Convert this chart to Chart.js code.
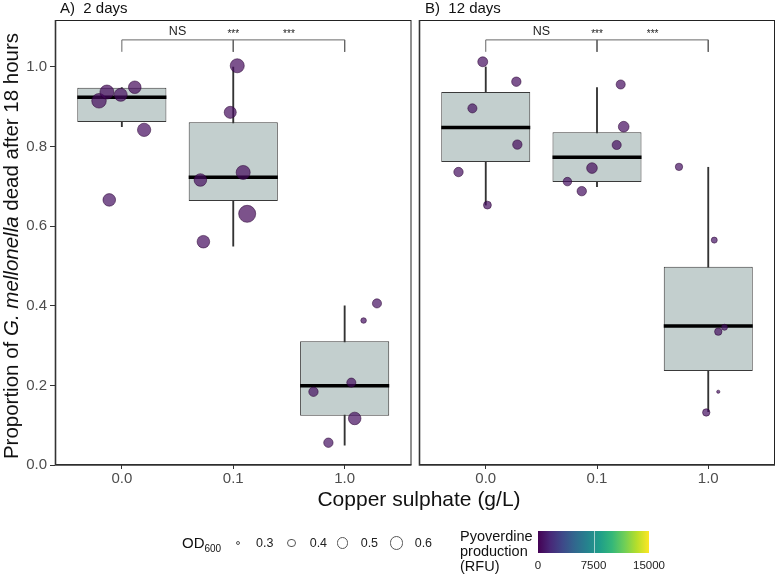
<!DOCTYPE html>
<html>
<head>
<meta charset="utf-8">
<script src="https://cdn.jsdelivr.net/npm/chart.js@4"></script>
<style>
  body { margin: 0; background: #fff; }
  #wrap { position: relative; width: 777px; height: 578px; font-family: "Liberation Sans", Arial, sans-serif; color: #111; }
  canvas { position: absolute; top: 0; }
  .txt { position: absolute; white-space: pre; }
  .key { position: absolute; border: 1px solid #555; border-radius: 50%; box-sizing: border-box; }
</style>
</head>
<body>
<div id="wrap">
  <canvas id="panelA" width="413" height="578" style="left:0"></canvas>
  <canvas id="panelB" width="364" height="578" style="left:413px"></canvas>

  <div class="txt" style="left:60px;top:-1px;font-size:15px;line-height:18px">A)  2 days</div>
  <div class="txt" style="left:425px;top:-1px;font-size:15px;line-height:18px">B)  12 days</div>

  <div class="txt" style="left:-239px;top:234px;width:500px;height:24px;line-height:24px;text-align:center;font-size:20.5px;transform:rotate(-90deg)">Proportion of <i>G. mellonella</i> dead after 18 hours</div>
  <div class="txt" style="left:169px;top:487px;width:500px;text-align:center;font-size:21px;line-height:24px">Copper sulphate (g/L)</div>

  <div id="legend"></div>
</div>

<script>
// categories on the x axis
const categories = ['0.0', '0.1', '1.0'];

// A) 2 days - box stats
const boxA_lower  = [0.850, 0.550, 0.050];
const boxA_q1     = [0.862, 0.663, 0.124];
const boxA_median = [0.924, 0.723, 0.199];
const boxA_q3     = [0.948, 0.861, 0.311];
const boxA_upper  = [0.948, 1.000, 0.400];

// A) 2 days - jittered points (x = category index + jitter)
const pointsA_x   = [-0.205, -0.134, -0.010, 0.116, 0.200, -0.113, 1.036, 0.973, 0.705, 1.089, 1.125, 0.732, 2.290, 2.170, 2.060, 1.720, 2.090, 1.854];
const pointsA_y   = [0.915, 0.937, 0.930, 0.949, 0.842, 0.666, 1.003, 0.886, 0.716, 0.735, 0.631, 0.561, 0.406, 0.363, 0.207, 0.184, 0.117, 0.056];
const pointsA_od  = [0.67, 0.64, 0.585, 0.565, 0.60, 0.565, 0.64, 0.54, 0.565, 0.64, 0.82, 0.565, 0.42, 0.32, 0.42, 0.43, 0.565, 0.43];
const pointsA_pvd = [400, 350, 500, 300, 450, 600, 380, 420, 500, 350, 300, 450, 700, 650, 500, 600, 550, 700];

// B) 12 days - box stats
const boxB_lower  = [0.653, 0.699, 0.134];
const boxB_q1     = [0.761, 0.711, 0.236];
const boxB_median = [0.848, 0.773, 0.349];
const boxB_q3     = [0.937, 0.836, 0.498];
const boxB_upper  = [1.000, 0.948, 0.748];

// B) 12 days - jittered points
const pointsB_x   = [-0.027, 0.275, -0.120, 0.284, -0.245, 0.015, 1.240, 1.177, 0.955, 0.734, 0.863, 1.213, 1.737, 2.054, 2.146, 2.090, 2.090, 1.982];
const pointsB_y   = [1.013, 0.963, 0.896, 0.805, 0.736, 0.653, 0.850, 0.804, 0.746, 0.712, 0.688, 0.956, 0.749, 0.565, 0.346, 0.335, 0.184, 0.132];
const pointsB_od  = [0.45, 0.43, 0.42, 0.43, 0.43, 0.38, 0.48, 0.42, 0.48, 0.40, 0.43, 0.42, 0.365, 0.33, 0.33, 0.365, 0.28, 0.365];
const pointsB_pvd = [500, 450, 600, 400, 550, 500, 450, 500, 400, 600, 550, 450, 700, 800, 900, 600, 750, 650];

// legend values
const odLegend = [0.3, 0.4, 0.5, 0.6];
const pvdTicks = [0, 7500, 15000];
const pvdMax = 15000;

const viridis = ['#440154', '#482878', '#3e4989', '#31688e', '#26828e', '#1f9e89', '#35b779', '#6ece58', '#b5de2b', '#fde725'];

function hexRgb(h) {
  return [parseInt(h.slice(1, 3), 16), parseInt(h.slice(3, 5), 16), parseInt(h.slice(5, 7), 16)];
}
function viridisColor(v, alpha) {
  let t = Math.max(0, Math.min(1, v / pvdMax)) * (viridis.length - 1);
  let i = Math.min(Math.floor(t), viridis.length - 2);
  let f = t - i;
  let a = hexRgb(viridis[i]), b = hexRgb(viridis[i + 1]);
  let c = a.map((x, k) => Math.round(x + (b[k] - x) * f));
  return `rgba(${c[0]},${c[1]},${c[2]},${alpha})`;
}
function odRadius(od) {
  return Math.max(1.5, Math.sqrt(130 * (od - 0.26)));
}

const FONT = "'Liberation Sans', Arial, sans-serif";

const panelExtras = {
  id: 'panelExtras',
  afterDatasetsDraw(chart) {
    const { ctx, chartArea: a, scales: { x, y } } = chart;
    ctx.save();
    ctx.strokeStyle = '#222';
    ctx.lineWidth = 1;
    ctx.strokeRect(a.left + 0.5, a.top + 0.5, a.width - 1, a.height - 1);
    ctx.lineWidth = 1.6;
    ctx.strokeStyle = '#333';
    ctx.beginPath();
    ctx.moveTo(a.left + 0.5, a.top);
    ctx.lineTo(a.left + 0.5, a.bottom);
    ctx.lineTo(a.right, a.bottom);
    ctx.stroke();

    ctx.fillStyle = '#222';
    ctx.textAlign = 'center';
    ctx.textBaseline = 'middle';
    ctx.font = '12.5px ' + FONT;
    ctx.fillText('NS', x.getPixelForValue(0.5), y.getPixelForValue(1.09));
    ctx.font = '10px ' + FONT;
    ctx.fillText('***', x.getPixelForValue(1), y.getPixelForValue(1.083));
    ctx.fillText('***', x.getPixelForValue(1.5), y.getPixelForValue(1.083));
    ctx.restore();
  }
};

function halfBox(c) {
  const s = c.chart.scales.x;
  return s.getPixelForValue(0.4) - s.getPixelForValue(0);
}

function makePanel(id, lower, q1, med, q3, upper, px, py, pod, pvd, showY, pad) {
  const idx = categories.map((c, i) => i);
  const points = px.map((v, i) => ({ x: v, y: py[i] }));
  return new Chart(document.getElementById(id), {
    type: 'scatter',
    data: {
      datasets: [
        {
          type: 'scatter',
          data: points,
          order: 0,
          pointRadius: pod.map(odRadius),
          pointBackgroundColor: pvd.map(v => viridisColor(v, 0.7)),
          pointBorderColor: 'rgba(40,0,50,0.75)',
          pointBorderWidth: 0.7
        },
        {
          type: 'scatter',
          data: idx.map(i => ({ x: i, y: med[i] })),
          order: 1,
          pointStyle: 'line',
          pointRadius: halfBox,
          pointBorderColor: '#000',
          pointBorderWidth: 3.5
        },
        {
          type: 'bar',
          data: idx.map(i => ({ x: i, y: [q1[i], q3[i]] })),
          order: 2,
          grouped: false,
          barPercentage: 0.8,
          categoryPercentage: 1,
          backgroundColor: '#c3cfce',
          borderColor: '#3a3a3a',
          borderWidth: 1,
          borderSkipped: false
        },
        {
          type: 'bar',
          data: idx.map(i => ({ x: i, y: [lower[i], upper[i]] })),
          order: 3,
          grouped: false,
          barThickness: 1.2,
          backgroundColor: '#333'
        },
        {
          type: 'line',
          data: [{ x: 0, y: 1.038 }, { x: 0, y: 1.068 }, { x: 2, y: 1.068 }, { x: 2, y: 1.038 }],
          order: 4,
          borderColor: '#666',
          borderWidth: 1,
          pointRadius: 0,
          fill: false
        },
        {
          type: 'line',
          data: [{ x: 1, y: 1.068 }, { x: 1, y: 1.038 }],
          order: 4,
          borderColor: '#666',
          borderWidth: 1,
          pointRadius: 0,
          fill: false
        }
      ]
    },
    options: {
      responsive: false,
      animation: false,
      events: [],
      devicePixelRatio: 1,
      layout: { padding: pad, autoPadding: false },
      plugins: { legend: { display: false }, tooltip: { enabled: false } },
      scales: {
        x: {
          type: 'linear',
          min: -0.6,
          max: 2.6,
          offset: false,
          afterBuildTicks: s => { s.ticks = idx.map(v => ({ value: v })); },
          afterFit: s => { s.height = 30; },
          ticks: { callback: v => categories[v], color: '#4d4d4d', font: { size: 15, family: FONT }, padding: 1, maxRotation: 0 },
          grid: { drawOnChartArea: false, offset: false, tickLength: 4, color: '#333' },
          border: { display: false }
        },
        y: {
          display: showY,
          min: 0,
          max: 1.118,
          afterFit: s => { s.width = showY ? 55 : 0; },
          ticks: { stepSize: 0.2, includeBounds: false, callback: v => v.toFixed(1), color: '#4d4d4d', font: { size: 15, family: FONT }, padding: 3 },
          grid: { drawOnChartArea: false, tickLength: 5, color: '#333' },
          border: { display: false }
        }
      }
    },
    plugins: [panelExtras]
  });
}

makePanel('panelA', boxA_lower, boxA_q1, boxA_median, boxA_q3, boxA_upper,
  pointsA_x, pointsA_y, pointsA_od, pointsA_pvd, true, { top: 20, right: 1.5, bottom: 83, left: 0 });
makePanel('panelB', boxB_lower, boxB_q1, boxB_median, boxB_q3, boxB_upper,
  pointsB_x, pointsB_y, pointsB_od, pointsB_pvd, false, { top: 20, right: 2, bottom: 83, left: 6 });

// legend
let legend = document.getElementById('legend');
let html = '<div class="txt" style="left:182px;top:534px;font-size:15px;line-height:18px">OD<sub style="font-size:10px">600</sub></div>';
let keyX = [238, 291.7, 342.7, 396.7];
odLegend.forEach((od, i) => {
  let r = odRadius(od);
  html += `<div class="key" style="left:${keyX[i] - r}px;top:${543 - r}px;width:${2 * r}px;height:${2 * r}px"></div>`;
  html += `<div class="txt" style="left:${keyX[i] + 18}px;top:535px;font-size:12.5px;line-height:16px;color:#222">${od.toFixed(1)}</div>`;
});
html += '<div class="txt" style="left:460px;top:529px;font-size:14.5px;line-height:15px">Pyoverdine\nproduction\n(RFU)</div>';
let stops = viridis.map((c, i) => `${c} ${(i / (viridis.length - 1) * 100).toFixed(1)}%`).join(',');
html += `<div style="position:absolute;left:538px;top:531px;width:111px;height:22px;background:linear-gradient(to right,${stops})"></div>`;
pvdTicks.forEach(t => {
  let xx = 538 + 111 * t / pvdMax;
  if (t > 0 && t < pvdMax) html += `<div style="position:absolute;left:${xx}px;top:531px;width:1px;height:22px;background:rgba(255,255,255,0.6)"></div>`;
  html += `<div class="txt" style="left:${xx - 30}px;width:60px;text-align:center;top:558px;font-size:11.5px;line-height:15px;color:#222">${t}</div>`;
});
legend.innerHTML = html;
</script>
</body>
</html>
